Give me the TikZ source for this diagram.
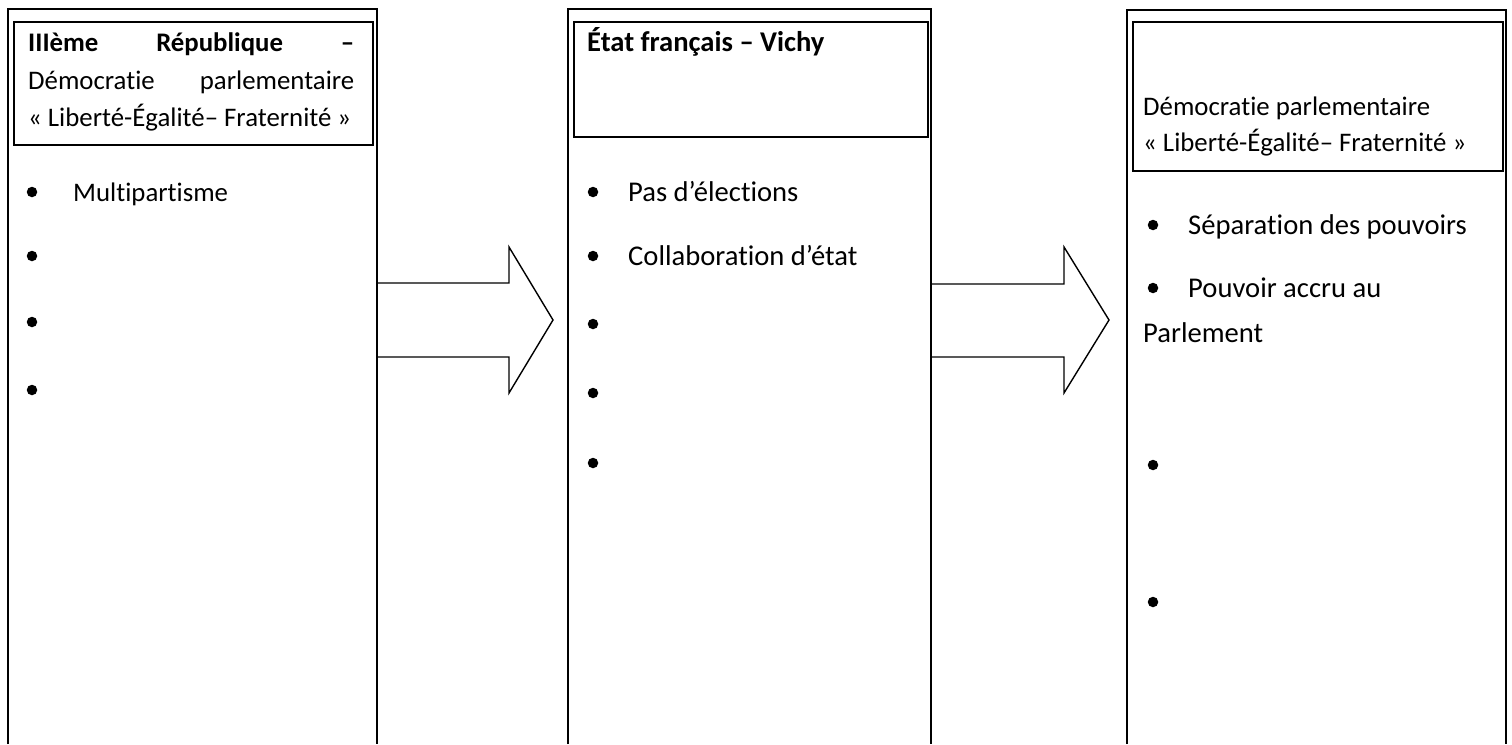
\documentclass[tikz,border=0pt]{standalone}
\usepackage{fontspec}
\setmainfont{Carlito}[Ligatures={TeX,NoCommon}]
\newcommand{\hdrfont}{\fontsize{26.8}{32}\selectfont}
\newcommand{\bodyfont}{\fontsize{28.6}{34}\selectfont}
\begin{document}
\begin{tikzpicture}[x=1pt,y=-1pt,
  outerbox/.style={line width=1.4pt},
  hdrbox/.style={draw, line width=1.8pt, inner sep=0pt, anchor=north west},
  bigarrow/.style={line width=1.4pt, line join=miter},
  hdrtext/.style={anchor=base west, inner sep=0pt, font=\hdrfont},
  bodytext/.style={anchor=base west, inner sep=0pt, font=\bodyfont},
  dot/.style={circle, fill=black, inner sep=0pt, minimum size=10.5pt}]
\useasboundingbox (0,0) rectangle (1512,744);
% ---------- column 1 ----------
\coordinate (c1bl) at (8,744);
\coordinate (c1tl) at (8,9);
\coordinate (c1tr) at (377,9);
\coordinate (c1br) at (377,744);
\draw[outerbox] (c1bl) -- (c1tl) -- (c1tr) -- (c1br);
\node[hdrbox, minimum width=359pt, minimum height=123pt] (h1) at (13,21) {};
\node[hdrtext] (h1a) at (28,51) {\hbox to 326pt{\textbf{IIIème}\hfill\textbf{République}\hfill\textbf{–}}};
\node[hdrtext] (h1b) at (28,89) {\hbox to 326pt{Démocratie\hfill parlementaire}};
\node[hdrtext] (h1c) at (28,126) {« Liberté-Égalité– Fraternité »};
\node[dot] (d1a) at (32,192) {};
\node[hdrtext] (t1a) at (73,201) {Multipartisme};
\node[dot] (d1b) at (32,256) {};
\node[dot] (d1c) at (32,322) {};
\node[dot] (d1d) at (32,390) {};
% ---------- column 2 ----------
\coordinate (c2bl) at (568,744);
\coordinate (c2tl) at (568,9);
\coordinate (c2tr) at (931,9);
\coordinate (c2br) at (931,744);
\draw[outerbox] (c2bl) -- (c2tl) -- (c2tr) -- (c2br);
\node[hdrbox, minimum width=354pt, minimum height=115pt] (h2) at (573,21) {};
\node[bodytext] (h2a) at (587,51) {\textbf{État français – Vichy}};
\node[dot] (d2a) at (593,192) {};
\node[bodytext] (t2a) at (628,201) {Pas d’élections};
\node[dot] (d2b) at (593,256) {};
\node[bodytext] (t2b) at (628,265) {Collaboration d’état};
\node[dot] (d2c) at (593,324) {};
\node[dot] (d2d) at (593,393) {};
\node[dot] (d2e) at (593,463) {};
% ---------- column 3 ----------
\coordinate (c3bl) at (1127,744);
\coordinate (c3tl) at (1127,10);
\coordinate (c3tr) at (1506,10);
\coordinate (c3br) at (1506,744);
\draw[outerbox] (c3bl) -- (c3tl) -- (c3tr) -- (c3br);
\node[hdrbox, minimum width=370pt, minimum height=149pt] (h3) at (1132,21) {};
\node[hdrtext] (h3a) at (1143,115) {Démocratie parlementaire};
\node[hdrtext] (h3b) at (1143,151) {« Liberté-Égalité– Fraternité »};
\node[dot] (d3a) at (1153,225) {};
\node[bodytext] (t3a) at (1188,234) {Séparation des pouvoirs};
\node[dot] (d3b) at (1153,288) {};
\node[bodytext] (t3b) at (1188,297) {Pouvoir accru au};
\node[bodytext] (t3c) at (1143,342) {Parlement};
\node[dot] (d3c) at (1153,465) {};
\node[dot] (d3d) at (1153,602) {};
% ---------- arrows (from column to column) ----------
\coordinate (a1s) at (377,283);
\coordinate (a1e) at (377,357);
\draw[bigarrow] (a1s) -- (509,283) -- (509,247) -- (553,320) -- (509,393) -- (509,357) -- (a1e);
\coordinate (a2s) at (931,284);
\coordinate (a2e) at (931,357);
\draw[bigarrow] (a2s) -- (1064,284) -- (1064,247) -- (1109,320) -- (1064,393) -- (1064,357) -- (a2e);
\end{tikzpicture}
\end{document}
